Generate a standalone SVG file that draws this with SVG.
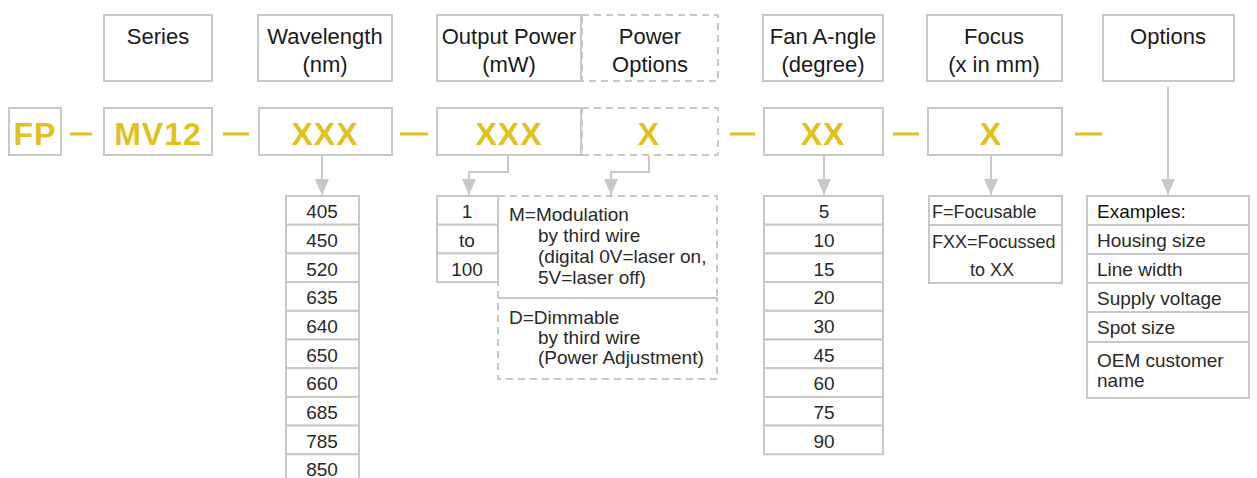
<svg xmlns="http://www.w3.org/2000/svg" width="1257" height="478" viewBox="0 0 1257 478">
<style>
.box{fill:#fff;stroke:#c8c8c8;stroke-width:2}
.dbox{fill:none;stroke:#c8c8c8;stroke-width:2;stroke-dasharray:7 5}
.hd{font-family:"Liberation Sans",Arial,sans-serif;font-size:22px;fill:#1a1a1a;text-anchor:middle}
.code{font-family:"Liberation Sans",Arial,sans-serif;font-size:32px;font-weight:bold;fill:#e2c11e;text-anchor:middle;letter-spacing:1px}
.li{font-family:"Liberation Sans",Arial,sans-serif;font-size:19px;fill:#2a2a2a;text-anchor:middle}
.lt{font-family:"Liberation Sans",Arial,sans-serif;font-size:19px;fill:#2a2a2a}
.ls{font-family:"Liberation Sans",Arial,sans-serif;font-size:18px;fill:#2a2a2a}
.dash{stroke:#e2c11e;stroke-width:3}
.conn{fill:none;stroke:#c8c8c8;stroke-width:2}
</style>
<defs>
<marker id="ah" markerUnits="userSpaceOnUse" markerWidth="16" markerHeight="14" viewBox="0 0 16 14" refX="16" refY="7" orient="auto">
<path d="M0,0 L16,7 L0,14 z" fill="#c8c8c8"/>
</marker>
</defs>
<rect width="1257" height="478" fill="#fff"/>

<g id="headers">
<g id="h-series"><rect class="box" x="104" y="15" width="108" height="66"/><text class="hd" x="158" y="44">Series</text></g>
<g id="h-wavelength"><rect class="box" x="258" y="15" width="134" height="66"/><text class="hd" x="325" y="44">Wavelength</text><text class="hd" x="325" y="72">(nm)</text></g>
<g id="h-output"><rect class="box" x="437" y="15" width="144" height="66"/><text class="hd" x="509" y="44">Output Power</text><text class="hd" x="509" y="72">(mW)</text></g>
<g id="h-poweropt"><rect class="dbox" x="582" y="15" width="136" height="66"/><text class="hd" x="650" y="44">Power</text><text class="hd" x="650" y="72">Options</text></g>
<g id="h-fan"><rect class="box" x="763" y="15" width="120" height="66"/><text class="hd" x="823" y="44">Fan A-ngle</text><text class="hd" x="823" y="72">(degree)</text></g>
<g id="h-focus"><rect class="box" x="927" y="15" width="135" height="66"/><text class="hd" x="994" y="44">Focus</text><text class="hd" x="994" y="72">(x in mm)</text></g>
<g id="h-options"><rect class="box" x="1103" y="15" width="131" height="66"/><text class="hd" x="1168" y="44">Options</text></g>
</g>

<g id="codes">
<g id="c-fp"><rect class="box" x="9" y="108" width="52" height="47"/><text class="code" x="35" y="145">FP</text></g>
<g id="c-mv12"><rect class="box" x="104" y="108" width="108" height="47"/><text class="code" x="158" y="145">MV12</text></g>
<g id="c-wl"><rect class="box" x="259" y="108" width="133" height="47"/><text class="code" x="325" y="145">XXX</text></g>
<g id="c-op"><rect class="box" x="437" y="108" width="144" height="47"/><text class="code" x="509" y="145">XXX</text></g>
<g id="c-po"><rect class="dbox" x="582" y="108" width="136" height="47"/><text class="code" x="649" y="145">X</text></g>
<g id="c-fan"><rect class="box" x="764" y="108" width="119" height="47"/><text class="code" x="823" y="145">XX</text></g>
<g id="c-focus"><rect class="box" x="928" y="108" width="134" height="47"/><text class="code" x="991" y="145">X</text></g>
</g>

<g id="separators">
<line class="dash" x1="70" y1="134" x2="92" y2="134"/>
<line class="dash" x1="223" y1="134" x2="249" y2="134"/>
<line class="dash" x1="400" y1="134" x2="428" y2="134"/>
<line class="dash" x1="730" y1="134" x2="755" y2="134"/>
<line class="dash" x1="893" y1="134" x2="919" y2="134"/>
<line class="dash" x1="1075" y1="134" x2="1102" y2="134"/>
</g>

<g id="connectors">
<path class="conn" d="M322,156 V195" marker-end="url(#ah)"/>
<path class="conn" d="M508,156 V172 H469 V195" marker-end="url(#ah)"/>
<path class="conn" d="M649,156 V172 H611 V195" marker-end="url(#ah)"/>
<path class="conn" d="M824,156 V195" marker-end="url(#ah)"/>
<path class="conn" d="M991,156 V195" marker-end="url(#ah)"/>
<path class="conn" d="M1168,87 V195" marker-end="url(#ah)"/>
</g>

<g id="list-wavelength">
<rect class="box" x="286" y="196" width="73" height="28.7"/>
<rect class="box" x="286" y="224.7" width="73" height="28.7"/>
<rect class="box" x="286" y="253.4" width="73" height="28.7"/>
<rect class="box" x="286" y="282.1" width="73" height="28.7"/>
<rect class="box" x="286" y="310.8" width="73" height="28.7"/>
<rect class="box" x="286" y="339.5" width="73" height="28.7"/>
<rect class="box" x="286" y="368.2" width="73" height="28.7"/>
<rect class="box" x="286" y="396.9" width="73" height="28.7"/>
<rect class="box" x="286" y="425.6" width="73" height="28.7"/>
<rect class="box" x="286" y="454.3" width="73" height="40"/>
<text class="li" x="322" y="218">405</text>
<text class="li" x="322" y="247">450</text>
<text class="li" x="322" y="275.5">520</text>
<text class="li" x="322" y="304">635</text>
<text class="li" x="322" y="333">640</text>
<text class="li" x="322" y="361.5">650</text>
<text class="li" x="322" y="390">660</text>
<text class="li" x="322" y="419">685</text>
<text class="li" x="322" y="447.5">785</text>
<text class="li" x="322" y="476">850</text>
</g>

<g id="list-power">
<rect class="box" x="437" y="196" width="61" height="28.7"/>
<rect class="box" x="437" y="224.7" width="61" height="28.7"/>
<rect class="box" x="437" y="253.4" width="61" height="28.7"/>
<text class="li" x="467" y="218">1</text>
<text class="li" x="467" y="247">to</text>
<text class="li" x="467" y="275.5">100</text>
</g>

<g id="list-poweropt">
<rect class="dbox" x="498" y="196" width="219" height="102"/>
<rect class="dbox" x="498" y="298" width="219" height="81"/>
<text class="lt" x="509" y="221">M=Modulation</text>
<text class="lt" x="538" y="242">by third wire</text>
<text class="lt" x="538" y="263">(digital 0V=laser on,</text>
<text class="lt" x="538" y="284">5V=laser off)</text>
<text class="lt" x="509" y="324">D=Dimmable</text>
<text class="lt" x="538" y="344">by third wire</text>
<text class="lt" x="538" y="364">(Power Adjustment)</text>
</g>

<g id="list-fan">
<rect class="box" x="764" y="196" width="119" height="28.7"/>
<rect class="box" x="764" y="224.7" width="119" height="28.7"/>
<rect class="box" x="764" y="253.4" width="119" height="28.7"/>
<rect class="box" x="764" y="282.1" width="119" height="28.7"/>
<rect class="box" x="764" y="310.8" width="119" height="28.7"/>
<rect class="box" x="764" y="339.5" width="119" height="28.7"/>
<rect class="box" x="764" y="368.2" width="119" height="28.7"/>
<rect class="box" x="764" y="396.9" width="119" height="28.7"/>
<rect class="box" x="764" y="425.6" width="119" height="28.7"/>
<text class="li" x="824" y="218">5</text>
<text class="li" x="824" y="247">10</text>
<text class="li" x="824" y="275.5">15</text>
<text class="li" x="824" y="304">20</text>
<text class="li" x="824" y="333">30</text>
<text class="li" x="824" y="361.5">45</text>
<text class="li" x="824" y="390">60</text>
<text class="li" x="824" y="419">75</text>
<text class="li" x="824" y="447.5">90</text>
</g>

<g id="list-focus">
<rect class="box" x="929" y="196" width="133" height="29"/>
<rect class="box" x="929" y="225" width="133" height="58"/>
<text class="ls" x="932" y="218">F=Focusable</text>
<text class="ls" x="932" y="248">FXX=Focussed</text>
<text class="ls" x="970" y="276">to XX</text>
</g>

<g id="list-options">
<rect class="box" x="1087" y="196" width="162" height="29"/>
<rect class="box" x="1087" y="225" width="162" height="29"/>
<rect class="box" x="1087" y="254" width="162" height="29"/>
<rect class="box" x="1087" y="283" width="162" height="29"/>
<rect class="box" x="1087" y="312" width="162" height="30"/>
<rect class="box" x="1087" y="342" width="162" height="56"/>
<text class="lt" x="1097" y="218" style="fill:#111">Examples:</text>
<text class="lt" x="1097" y="247">Housing size</text>
<text class="lt" x="1097" y="276">Line width</text>
<text class="lt" x="1097" y="305">Supply voltage</text>
<text class="lt" x="1097" y="334">Spot size</text>
<text class="lt" x="1097" y="367">OEM customer</text>
<text class="lt" x="1097" y="387">name</text>
</g>
</svg>
